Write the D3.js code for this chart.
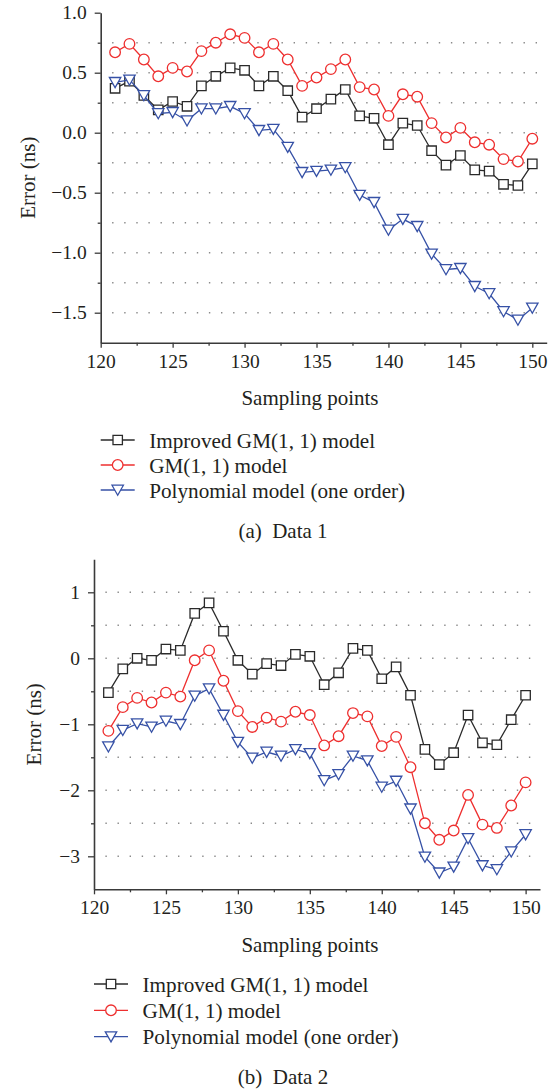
<!DOCTYPE html>
<html>
<head>
<meta charset="utf-8">
<script src="https://cdn.jsdelivr.net/npm/d3@7"></script>
<style>
    body { margin: 0; background: #fff; }
    svg text { font-family: "Liberation Serif", "Times New Roman", serif; fill: #231f20; }
</style>
</head>
<body>
<svg id="chart" width="558" height="1092"></svg>
<script>
/*****************************************************************************
 *  Data
 */
var SAMPLES = [121, 122, 123, 124, 125, 126, 127, 128, 129, 130,
               131, 132, 133, 134, 135, 136, 137, 138, 139, 140,
               141, 142, 143, 144, 145, 146, 147, 148, 149, 150];

var X_TICKS = [120, 125, 130, 135, 140, 145, 150];
var X_MINOR = [122.5, 127.5, 132.5, 137.5, 142.5, 147.5];

// Data 1
var IMPROVED_1 = [0.37, 0.43, 0.31, 0.19, 0.26, 0.22, 0.39, 0.47, 0.54, 0.52,
                  0.39, 0.47, 0.35, 0.13, 0.20, 0.28, 0.36, 0.14, 0.12, -0.10,
                  0.08, 0.06, -0.15, -0.27, -0.19, -0.31, -0.32, -0.43, -0.44, -0.26];
var GM_1 = [0.67, 0.74, 0.61, 0.47, 0.54, 0.51, 0.68, 0.75, 0.82, 0.79,
            0.67, 0.74, 0.61, 0.39, 0.46, 0.53, 0.61, 0.38, 0.36, 0.14,
            0.32, 0.30, 0.08, -0.04, 0.04, -0.08, -0.10, -0.22, -0.24, -0.05];
var POLY_1 = [0.42, 0.44, 0.31, 0.16, 0.17, 0.10, 0.20, 0.20, 0.22, 0.16,
              0.02, 0.03, -0.12, -0.33, -0.32, -0.31, -0.29, -0.52, -0.58, -0.81,
              -0.72, -0.78, -1.01, -1.14, -1.13, -1.28, -1.34, -1.49, -1.56, -1.46];
var Y_TICKS_1 = [1.0, 0.5, 0.0, -0.5, -1.0, -1.5];
var Y_MINOR_1 = [0.75, 0.25, -0.25, -0.75, -1.25];
var Y_GRID_1 = [0.75, 0.5, 0.25, 0.0, -0.25, -0.5, -0.75, -1.0, -1.25, -1.5];

// Data 2
var IMPROVED_2 = [-0.52, -0.16, 0.00, -0.03, 0.14, 0.12, 0.68, 0.84, 0.41, -0.03,
                  -0.24, -0.08, -0.11, 0.06, 0.03, -0.40, -0.22, 0.15, 0.12, -0.31,
                  -0.13, -0.56, -1.38, -1.61, -1.43, -0.86, -1.28, -1.31, -0.93, -0.56];
var GM_2 = [-1.10, -0.74, -0.60, -0.67, -0.52, -0.58, -0.03, 0.12, -0.34, -0.80,
            -1.04, -0.90, -0.96, -0.81, -0.86, -1.32, -1.18, -0.83, -0.88, -1.33,
            -1.19, -1.65, -2.50, -2.75, -2.61, -2.07, -2.52, -2.57, -2.23, -1.88];
var POLY_2 = [-1.34, -1.09, -0.99, -1.04, -0.95, -1.00, -0.57, -0.46, -0.86, -1.27,
              -1.51, -1.42, -1.48, -1.38, -1.44, -1.85, -1.76, -1.48, -1.55, -1.95,
              -1.86, -2.28, -3.01, -3.25, -3.16, -2.73, -3.14, -3.20, -2.93, -2.67];
var Y_TICKS_2 = [1, 0, -1, -2, -3];
var Y_MINOR_2 = [0.5, -0.5, -1.5, -2.5];
var Y_GRID_2 = [1, 0.5, 0, -0.5, -1, -1.5, -2, -2.5, -3];

var SERIES_NAMES = ["Improved GM(1, 1) model", "GM(1, 1) model", "Polynomial model (one order)"];

/*****************************************************************************
 *  Style
 */
var SERIF = "'Liberation Serif', 'Times New Roman', serif";
var BLACK = "#2a2a2a";
var RED = "#ee2f2f";
var BLUE = "#3651a6";
var AXIS_COLOR = "#3a3a3a";
var GRID_COLOR = "#8a8a8a";
var LINE_WIDTH = 1.3;
var TICK_FONT = 19.5;
var LABEL_FONT = 21;
var LEGEND_FONT = 21.2;

var svg = d3.select("#chart");

function markerPath(kind) {
    if (kind == "square") return "M-4.7,-4.7H4.7V4.7H-4.7Z";
    if (kind == "circle") return d3.symbol().type(d3.symbolCircle).size(Math.PI * 5.3 * 5.3)();
    return "M-5.7,-4.8L5.7,-4.8L0,5.3Z";
}

function drawPanel(cfg) {
    var g = svg.append("g");
    var xScale = d3.scaleLinear().domain([120, 151]).range([cfg.left, cfg.left + 446]);
    var yScale = d3.scaleLinear().domain(cfg.yDomain).range([cfg.bottom, cfg.bottom - 330]);

    // Dotted gridlines
    g.selectAll(".grid")
        .data(cfg.grid)
        .enter()
        .append("line")
        .attr("x1", xScale(120) + 11.4)
        .attr("x2", xScale(151))
        .attr("y1", d => yScale(d))
        .attr("y2", d => yScale(d))
        .attr("stroke", GRID_COLOR)
        .attr("stroke-width", 1.4)
        .attr("stroke-dasharray", "1.4,10.7");

    // Axes
    g.append("g")
        .attr("transform", "translate(0," + cfg.bottom + ")")
        .call(d3.axisBottom(xScale).tickValues(X_TICKS).tickSize(5).tickPadding(6).tickSizeOuter(0));
    g.append("g")
        .attr("transform", "translate(0," + cfg.bottom + ")")
        .call(d3.axisBottom(xScale).tickValues(X_MINOR).tickSize(3).tickFormat("").tickSizeOuter(0))
        .select(".domain").remove();
    g.append("g")
        .attr("transform", "translate(" + cfg.left + ",0)")
        .call(d3.axisLeft(yScale).tickValues(cfg.yTicks).tickSize(6).tickPadding(8)
            .tickFormat(d3.format(cfg.yFormat)).tickSizeOuter(0));
    g.append("g")
        .attr("transform", "translate(" + cfg.left + ",0)")
        .call(d3.axisLeft(yScale).tickValues(cfg.yMinor).tickSize(3).tickFormat("").tickSizeOuter(0))
        .select(".domain").remove();

    g.selectAll("g").attr("font-family", SERIF);
    g.selectAll(".domain").attr("stroke", AXIS_COLOR).attr("stroke-width", 1.6);
    g.selectAll(".tick line").attr("stroke", AXIS_COLOR).attr("stroke-width", 1.3);
    g.selectAll(".tick text")
        .attr("font-size", TICK_FONT)
        .attr("font-family", SERIF);

    // Axis titles
    g.append("text")
        .attr("text-anchor", "middle")
        .attr("x", 310)
        .attr("y", cfg.bottom + 62.5)
        .attr("font-size", LABEL_FONT)
        .text("Sampling points");
    g.append("text")
        .attr("text-anchor", "middle")
        .attr("transform", "translate(" + cfg.titleX + "," + (cfg.bottom - 165) + ") rotate(-90)")
        .attr("font-size", LABEL_FONT)
        .text("Error (ns)");

    // Series
    var series = [
        { values: cfg.improved, color: BLACK, marker: "square" },
        { values: cfg.gm, color: RED, marker: "circle" },
        { values: cfg.poly, color: BLUE, marker: "triangle" }
    ];
    var lineGenerator = d3.line()
        .x((d, i) => xScale(SAMPLES[i]))
        .y(d => yScale(d));

    series.forEach(function (s) {
        g.append("path")
            .attr("d", lineGenerator(s.values))
            .attr("fill", "none")
            .attr("stroke", s.color)
            .attr("stroke-width", LINE_WIDTH);
        g.selectAll(".m-" + s.marker)
            .data(s.values)
            .enter()
            .append("path")
            .attr("class", "m-" + s.marker)
            .attr("d", markerPath(s.marker))
            .attr("transform", (d, i) => "translate(" + xScale(SAMPLES[i]) + "," + yScale(d) + ")")
            .attr("fill", "#fff")
            .attr("stroke", s.color)
            .attr("stroke-width", LINE_WIDTH);
    });

    // Legend
    series.forEach(function (s, k) {
        var ly = cfg.legendTop + k * cfg.legendStep;
        g.append("line")
            .attr("x1", cfg.left)
            .attr("x2", cfg.left + 34)
            .attr("y1", ly)
            .attr("y2", ly)
            .attr("stroke", s.color)
            .attr("stroke-width", LINE_WIDTH);
        g.append("path")
            .attr("d", markerPath(s.marker))
            .attr("transform", "translate(" + (cfg.left + 17) + "," + ly + ")")
            .attr("fill", "#fff")
            .attr("stroke", s.color)
            .attr("stroke-width", LINE_WIDTH);
        g.append("text")
            .attr("x", cfg.left + 48.5)
            .attr("y", ly + 7.5)
            .attr("font-size", LEGEND_FONT)
            .text(SERIES_NAMES[k]);
    });

    // Caption
    g.append("text")
        .attr("text-anchor", "middle")
        .attr("x", 283)
        .attr("y", cfg.captionY)
        .attr("font-size", 21)
        .attr("xml:space", "preserve")
        .text(cfg.caption);
}

drawPanel({
    left: 100.7, bottom: 342.7, yDomain: [-1.75, 1.0],
    yTicks: Y_TICKS_1, yMinor: Y_MINOR_1, grid: Y_GRID_1, yFormat: ".1f",
    improved: IMPROVED_1, gm: GM_1, poly: POLY_1,
    titleX: 35, legendTop: 440, legendStep: 25, captionY: 538,
    caption: "(a)  Data 1"
});

drawPanel({
    left: 94, bottom: 889.3, yDomain: [-3.5, 1.5],
    yTicks: Y_TICKS_2, yMinor: Y_MINOR_2, grid: Y_GRID_2, yFormat: "d",
    improved: IMPROVED_2, gm: GM_2, poly: POLY_2,
    titleX: 41, legendTop: 984, legendStep: 26.3, captionY: 1084,
    caption: "(b)  Data 2"
});
</script>
</body>
</html>
